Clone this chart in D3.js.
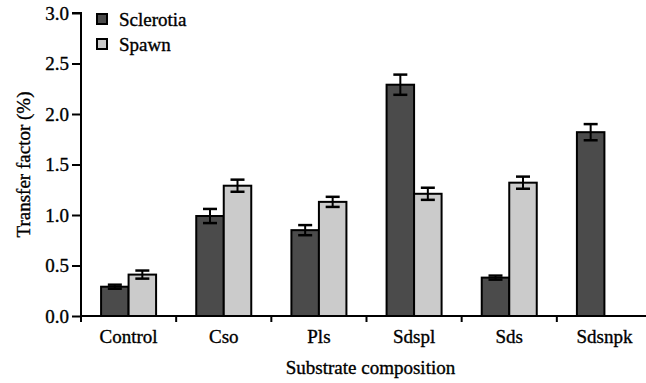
<!DOCTYPE html>
<html>
<head>
<meta charset="utf-8">
<script src="https://cdn.jsdelivr.net/npm/d3@7"></script>
<style>
  body { margin: 0; background: #fff; }
  text { font-family: "Liberation Serif", "Times New Roman", serif; fill: #000; stroke: #000; stroke-width: 0.35px; }
</style>
</head>
<body>
<div id="plot"></div>
<script>
// categories on the x axis
const categories = ['Control', 'Cso', 'Pls', 'Sdspl', 'Sds', 'Sdsnpk'];
// series names
const seriesNames = ['Sclerotia', 'Spawn'];
// mean transfer factor (%) per category
const sclerotia = [0.29, 0.99, 0.85, 2.29, 0.38, 1.82];
const spawn = [0.41, 1.29, 1.13, 1.21, 1.32, 0];
// error bar half-widths
const sclerotiaErr = [0.02, 0.07, 0.05, 0.10, 0.02, 0.08];
const spawnErr = [0.04, 0.06, 0.05, 0.06, 0.06, 0];
// y tick values
const yTicks = [0, 0.5, 1.0, 1.5, 2.0, 2.5, 3.0];

const colors = ['#4b4b4b', '#cbcbcb'];

const width = 646, height = 383;
const margin = { left: 81, right: -6, top: 13, bottom: 67 };

const svg = d3.select('#plot').append('svg')
    .attr('width', width)
    .attr('height', height);

// x scale for categories
let x = d3.scaleBand()
    .domain(categories)
    .range([margin.left, width - margin.right])
    .paddingInner(0)
    .paddingOuter(0);

// inner scale for the two series inside a group
let xInner = d3.scaleBand()
    .domain(seriesNames)
    .range([0, x.bandwidth()])
    .paddingOuter(0.73)
    .paddingInner(0);

// y scale
let y = d3.scaleLinear()
    .domain([0, 3])
    .range([height - margin.bottom, margin.top]);

// build rows for bars
let rows = [];
categories.forEach((c, i) => {
    rows.push({ cat: c, series: 'Sclerotia', value: sclerotia[i], err: sclerotiaErr[i], color: colors[0] });
    rows.push({ cat: c, series: 'Spawn', value: spawn[i], err: spawnErr[i], color: colors[1] });
});

// bars
svg.append('g').selectAll('rect')
    .data(rows.filter(d => d.value > 0))
    .enter().append('rect')
    .attr('x', d => x(d.cat) + xInner(d.series))
    .attr('width', xInner.bandwidth())
    .attr('y', d => y(d.value))
    .attr('height', d => y(0) - y(d.value))
    .attr('fill', d => d.color)
    .attr('stroke', '#000')
    .attr('stroke-width', 2);

// error bars
let eb = svg.append('g').selectAll('g')
    .data(rows.filter(d => d.err > 0))
    .enter().append('g')
    .attr('transform', d => `translate(${x(d.cat) + xInner(d.series) + xInner.bandwidth() / 2},0)`);
eb.append('line')
    .attr('y1', d => y(d.value + d.err))
    .attr('y2', d => y(d.value - d.err))
    .attr('stroke', '#000').attr('stroke-width', 2);
eb.append('line')
    .attr('x1', -7).attr('x2', 7)
    .attr('y1', d => y(d.value + d.err))
    .attr('y2', d => y(d.value + d.err))
    .attr('stroke', '#000').attr('stroke-width', 2.5);
eb.append('line')
    .attr('x1', -7).attr('x2', 7)
    .attr('y1', d => y(d.value - d.err))
    .attr('y2', d => y(d.value - d.err))
    .attr('stroke', '#000').attr('stroke-width', 2.5);

// y axis
let y_axis = d3.axisLeft(y)
    .tickValues(yTicks)
    .tickFormat(d3.format('.1f'))
    .tickSize(9)
    .tickPadding(3);
let yg = svg.append('g')
    .attr('transform', `translate(${margin.left},0)`)
    .call(y_axis);
yg.attr('font-family', null).attr('font-size', null);
yg.selectAll('path, line').attr('stroke', '#000').attr('stroke-width', 2);
yg.select('.domain').attr('d', `M-9,${y(3)}H0V${y(0)}`);
yg.selectAll('text')
    .style('font-size', '19px')
    .attr('fill', '#000');

// x axis: ticks sit between categories
let xg = svg.append('g')
    .attr('transform', `translate(0,${y(0)})`);
xg.append('line')
    .attr('x1', margin.left - 1).attr('x2', width)
    .attr('stroke', '#000').attr('stroke-width', 2);
xg.selectAll('line.tick')
    .data(categories)
    .enter().append('line')
    .attr('class', 'tick')
    .attr('x1', d => x(d)).attr('x2', d => x(d))
    .attr('y1', 0).attr('y2', 6)
    .attr('stroke', '#000').attr('stroke-width', 2);
xg.selectAll('text')
    .data(categories)
    .enter().append('text')
    .attr('x', d => x(d) + x.bandwidth() / 2)
    .attr('y', 27)
    .attr('text-anchor', 'middle')
    .style('font-size', '19px')
    .text(d => d);

// axis titles
svg.append('text')
    .attr('x', (margin.left + width - margin.right) / 2 + 4)
    .attr('y', 374)
    .attr('text-anchor', 'middle')
    .style('font-size', '19px')
    .text('Substrate composition');
svg.append('text')
    .attr('transform', `translate(30,${(y(0) + y(3)) / 2}) rotate(-90)`)
    .attr('text-anchor', 'middle')
    .style('font-size', '19px')
    .text('Transfer factor (%)');

// legend
let lg = svg.append('g').selectAll('g')
    .data(seriesNames)
    .enter().append('g')
    .attr('transform', (d, i) => `translate(97,${14 + i * 25})`);
lg.append('rect')
    .attr('width', 10).attr('height', 10)
    .attr('fill', (d, i) => colors[i])
    .attr('stroke', '#000').attr('stroke-width', 2);
lg.append('text')
    .attr('x', 22).attr('y', 12)
    .style('font-size', '19px')
    .text(d => d);
</script>
</body>
</html>
